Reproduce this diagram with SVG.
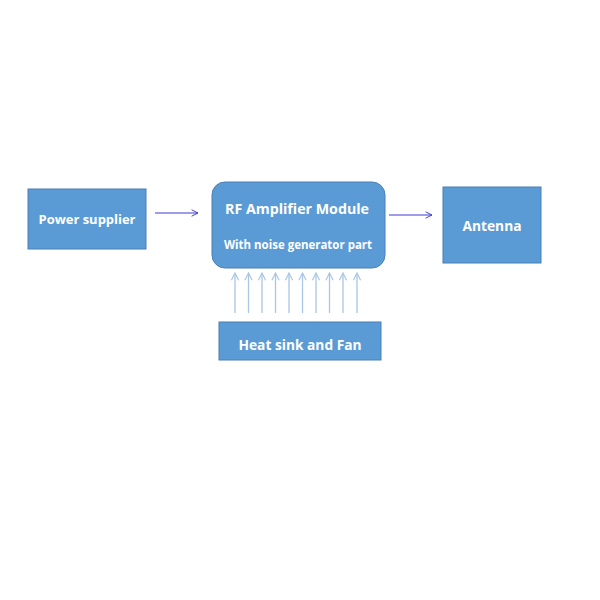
<svg xmlns="http://www.w3.org/2000/svg" width="600" height="600" viewBox="0 0 600 600">
<defs>
<style>
.box{fill:#5b9bd5;stroke:#4a7fb5;stroke-width:1}
.t{fill:#ffffff;font-family:"Open Sans","Liberation Sans",sans-serif;font-weight:bold;text-anchor:middle}
.c{stroke:#3b3bd6;stroke-width:1;fill:none}
.h{stroke:#a9c6e4;stroke-width:1.3;fill:none}
</style>
<marker id="ah" viewBox="0 0 10 10" refX="9" refY="5" markerWidth="8" markerHeight="8" orient="auto" markerUnits="userSpaceOnUse">
<path d="M1,1 L9,5 L1,9" fill="none" stroke="#3b3bd6" stroke-width="1.2"/>
</marker>
<marker id="hh" viewBox="0 0 10 10" refX="9" refY="5" markerWidth="9" markerHeight="9" orient="auto" markerUnits="userSpaceOnUse">
<path d="M1,1 L9,5 L1,9" fill="none" stroke="#a9c6e4" stroke-width="1.3"/>
</marker>
</defs>
<rect width="600" height="600" fill="#ffffff"/>
<g id="power">
<rect class="box" x="28" y="189" width="118" height="60"/>
<text class="t" x="87" y="224" font-size="13" textLength="97" lengthAdjust="spacingAndGlyphs">Power supplier</text>
</g>
<g id="rf">
<rect class="box" x="212" y="182" width="173" height="86" rx="13" ry="13"/>
<text class="t" x="297" y="214" font-size="15" textLength="144" lengthAdjust="spacingAndGlyphs">RF Amplifier Module</text>
<text class="t" x="298" y="249" font-size="12" textLength="148" lengthAdjust="spacingAndGlyphs">With noise generator part</text>
</g>
<g id="antenna">
<rect class="box" x="443" y="187" width="98" height="76"/>
<text class="t" x="492" y="231" font-size="14" textLength="59" lengthAdjust="spacingAndGlyphs">Antenna</text>
</g>
<g id="heatsink">
<rect class="box" x="219" y="322" width="162" height="38"/>
<text class="t" x="300" y="350" font-size="15" textLength="123" lengthAdjust="spacingAndGlyphs">Heat sink and Fan</text>
</g>
<g id="connectors">
<line class="c" x1="155" y1="213" x2="198" y2="213" marker-end="url(#ah)"/>
<line class="c" x1="389" y1="215" x2="432" y2="215" marker-end="url(#ah)"/>
<g class="h">
<line x1="235" y1="313" x2="235" y2="273" marker-end="url(#hh)"/>
<line x1="248.5" y1="313" x2="248.5" y2="273" marker-end="url(#hh)"/>
<line x1="262" y1="313" x2="262" y2="273" marker-end="url(#hh)"/>
<line x1="275.5" y1="313" x2="275.5" y2="273" marker-end="url(#hh)"/>
<line x1="289" y1="313" x2="289" y2="273" marker-end="url(#hh)"/>
<line x1="302.5" y1="313" x2="302.5" y2="273" marker-end="url(#hh)"/>
<line x1="316" y1="313" x2="316" y2="273" marker-end="url(#hh)"/>
<line x1="329.5" y1="313" x2="329.5" y2="273" marker-end="url(#hh)"/>
<line x1="343" y1="313" x2="343" y2="273" marker-end="url(#hh)"/>
<line x1="357" y1="313" x2="357" y2="273" marker-end="url(#hh)"/>
</g>
</g>
</svg>
